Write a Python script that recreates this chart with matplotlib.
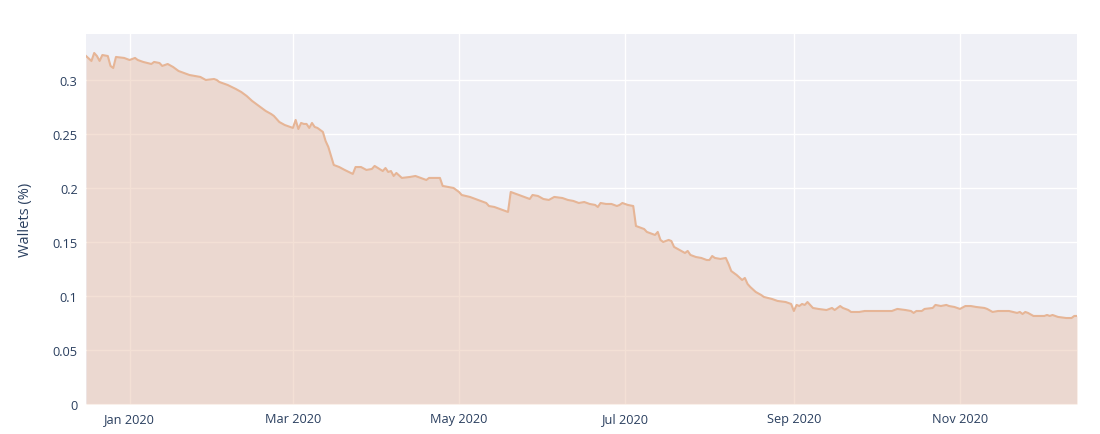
import numpy as np
import pandas as pd
import matplotlib
matplotlib.use("Agg")
import matplotlib.pyplot as plt
import matplotlib.dates as mdates
from matplotlib.ticker import FuncFormatter

# share of wallets
dates = [
    "2019-12-16", "2019-12-18", "2019-12-19", "2019-12-20", "2019-12-21", "2019-12-22",
    "2019-12-24", "2019-12-25", "2019-12-26", "2019-12-27", "2019-12-30",
    "2020-01-01", "2020-01-03", "2020-01-04", "2020-01-06", "2020-01-09", "2020-01-10",
    "2020-01-12", "2020-01-13", "2020-01-15", "2020-01-17", "2020-01-19", "2020-01-20",
    "2020-01-23", "2020-01-25", "2020-01-27", "2020-01-29",
    "2020-02-01", "2020-02-02", "2020-02-03", "2020-02-06", "2020-02-09", "2020-02-11",
    "2020-02-13", "2020-02-15", "2020-02-17", "2020-02-18", "2020-02-20", "2020-02-22",
    "2020-02-23", "2020-02-25", "2020-02-27", "2020-02-29",
    "2020-03-01", "2020-03-02", "2020-03-03", "2020-03-04", "2020-03-05", "2020-03-06",
    "2020-03-07", "2020-03-08", "2020-03-09", "2020-03-10", "2020-03-12", "2020-03-13",
    "2020-03-14", "2020-03-16", "2020-03-18", "2020-03-20", "2020-03-23", "2020-03-24",
    "2020-03-26", "2020-03-28", "2020-03-30", "2020-03-31",
    "2020-04-03", "2020-04-04", "2020-04-05", "2020-04-06", "2020-04-07", "2020-04-08",
    "2020-04-10", "2020-04-13", "2020-04-15", "2020-04-16", "2020-04-19", "2020-04-20",
    "2020-04-22", "2020-04-24", "2020-04-25", "2020-04-27", "2020-04-29",
    "2020-05-01", "2020-05-02", "2020-05-05", "2020-05-07", "2020-05-09", "2020-05-11",
    "2020-05-12", "2020-05-14", "2020-05-16", "2020-05-18", "2020-05-19", "2020-05-20",
    "2020-05-22", "2020-05-24", "2020-05-27", "2020-05-28", "2020-05-30",
    "2020-06-01", "2020-06-03", "2020-06-05", "2020-06-08", "2020-06-10", "2020-06-12",
    "2020-06-14", "2020-06-16", "2020-06-18", "2020-06-20", "2020-06-21", "2020-06-22",
    "2020-06-24", "2020-06-26", "2020-06-28", "2020-06-29", "2020-06-30",
    "2020-07-02", "2020-07-04", "2020-07-05", "2020-07-06", "2020-07-08", "2020-07-09",
    "2020-07-11", "2020-07-12", "2020-07-13", "2020-07-14", "2020-07-15", "2020-07-17",
    "2020-07-18", "2020-07-19", "2020-07-21", "2020-07-23", "2020-07-24", "2020-07-25",
    "2020-07-27", "2020-07-29", "2020-07-31",
    "2020-08-01", "2020-08-02", "2020-08-03", "2020-08-05", "2020-08-07", "2020-08-08",
    "2020-08-09", "2020-08-11", "2020-08-13", "2020-08-14", "2020-08-15", "2020-08-16",
    "2020-08-18", "2020-08-20", "2020-08-21", "2020-08-24", "2020-08-26", "2020-08-29",
    "2020-08-31",
    "2020-09-01", "2020-09-02", "2020-09-03", "2020-09-04", "2020-09-05", "2020-09-06",
    "2020-09-08", "2020-09-10", "2020-09-13", "2020-09-15", "2020-09-16", "2020-09-18",
    "2020-09-19", "2020-09-21", "2020-09-22", "2020-09-25", "2020-09-27",
    "2020-10-01", "2020-10-04", "2020-10-07", "2020-10-09", "2020-10-12", "2020-10-14",
    "2020-10-15", "2020-10-16", "2020-10-18", "2020-10-19", "2020-10-22", "2020-10-23",
    "2020-10-25", "2020-10-27", "2020-10-28", "2020-10-30",
    "2020-11-01", "2020-11-03", "2020-11-05", "2020-11-07", "2020-11-10", "2020-11-11",
    "2020-11-13", "2020-11-15", "2020-11-17", "2020-11-19", "2020-11-22", "2020-11-23",
    "2020-11-24", "2020-11-25", "2020-11-26", "2020-11-28", "2020-11-29",
    "2020-12-02", "2020-12-03", "2020-12-04", "2020-12-05", "2020-12-07", "2020-12-10",
    "2020-12-12", "2020-12-13", "2020-12-14",
]
wallets = [
    0.3222, 0.3176, 0.3250, 0.3222, 0.3176, 0.3231,
    0.3222, 0.3130, 0.3111, 0.3213, 0.3204,
    0.3185, 0.3204, 0.3185, 0.3167, 0.3148, 0.3167,
    0.3157, 0.3130, 0.3148, 0.3120, 0.3083, 0.3074,
    0.3046, 0.3037, 0.3028, 0.3000,
    0.3009, 0.3000, 0.2981, 0.2954, 0.2917, 0.2889,
    0.2852, 0.2806, 0.2769, 0.2750, 0.2713, 0.2685,
    0.2667, 0.2611, 0.2583, 0.2565,
    0.2556, 0.2630, 0.2546, 0.2602, 0.2593, 0.2593,
    0.2556, 0.2602, 0.2565, 0.2556, 0.2519, 0.2435,
    0.2380, 0.2213, 0.2194, 0.2167, 0.2130, 0.2194,
    0.2194, 0.2167, 0.2176, 0.2204,
    0.2157, 0.2185, 0.2148, 0.2157, 0.2111, 0.2139,
    0.2093, 0.2102, 0.2111, 0.2102, 0.2074, 0.2093,
    0.2093, 0.2093, 0.2019, 0.2009, 0.2000,
    0.1963, 0.1935, 0.1917, 0.1898, 0.1880, 0.1861,
    0.1833, 0.1824, 0.1806, 0.1787, 0.1778, 0.1963,
    0.1944, 0.1926, 0.1898, 0.1935, 0.1926,
    0.1898, 0.1889, 0.1917, 0.1907, 0.1889, 0.1880,
    0.1861, 0.1870, 0.1852, 0.1843, 0.1824, 0.1861,
    0.1852, 0.1852, 0.1833, 0.1843, 0.1861,
    0.1843, 0.1833, 0.1648, 0.1639, 0.1620, 0.1593,
    0.1574, 0.1565, 0.1593, 0.1519, 0.1500, 0.1519,
    0.1509, 0.1454, 0.1426, 0.1398, 0.1417, 0.1380,
    0.1361, 0.1352, 0.1333,
    0.1333, 0.1370, 0.1352, 0.1343, 0.1352, 0.1296,
    0.1231, 0.1194, 0.1148, 0.1167, 0.1111, 0.1083,
    0.1037, 0.1009, 0.0991, 0.0972, 0.0954, 0.0944,
    0.0926,
    0.0861, 0.0917, 0.0907, 0.0926, 0.0917, 0.0944,
    0.0889, 0.0880, 0.0870, 0.0889, 0.0870, 0.0907,
    0.0889, 0.0870, 0.0852, 0.0852, 0.0861,
    0.0861, 0.0861, 0.0861, 0.0880, 0.0870, 0.0861,
    0.0843, 0.0861, 0.0861, 0.0880, 0.0889, 0.0917,
    0.0907, 0.0917, 0.0907, 0.0898,
    0.0880, 0.0907, 0.0907, 0.0898, 0.0889, 0.0880,
    0.0852, 0.0861, 0.0861, 0.0861, 0.0843, 0.0852,
    0.0833, 0.0852, 0.0843, 0.0815, 0.0815,
    0.0815, 0.0824, 0.0815, 0.0824, 0.0806, 0.0796,
    0.0796, 0.0815, 0.0815,
]
y_ticks = [0, 0.05, 0.1, 0.15, 0.2, 0.25, 0.3]
x_ticks = ["2020-01-01", "2020-03-01", "2020-05-01", "2020-07-01", "2020-09-01", "2020-11-01"]

t = pd.to_datetime(dates)
txt = "#2a3f5f"

plt.rcParams["font.family"] = ["Open Sans", "DejaVu Sans"]

fig = plt.figure(figsize=(11, 4.35), dpi=100)
ax = fig.add_axes([0.0782, 0.069, 0.9009, 0.8506])
ax.set_facecolor("#eff0f6")

ax.fill_between(t, wallets, 0, color=(233/255, 194/255, 172/255, 0.5), lw=0, zorder=2)
ax.plot(t, wallets, color="#e6b596", lw=1.5, zorder=3)

ax.set_xlim(t.min(), t.max())
ax.set_ylim(0, 0.3426)
ax.set_yticks(y_ticks)
ax.yaxis.set_major_formatter(FuncFormatter(lambda v, p: "%g" % v))
ax.set_xticks(pd.to_datetime(x_ticks))
ax.xaxis.set_major_formatter(mdates.DateFormatter("%b %Y"))

ax.grid(color="white", lw=1, zorder=1)
ax.set_axisbelow(True)
for s in ax.spines.values():
    s.set_visible(False)
ax.tick_params(length=0, labelsize=9.2, colors=txt, pad=6)
ax.set_ylabel("Wallets (%)", fontsize=10.5, color=txt, labelpad=14)

fig.savefig("out.png", dpi=100, facecolor="white")
